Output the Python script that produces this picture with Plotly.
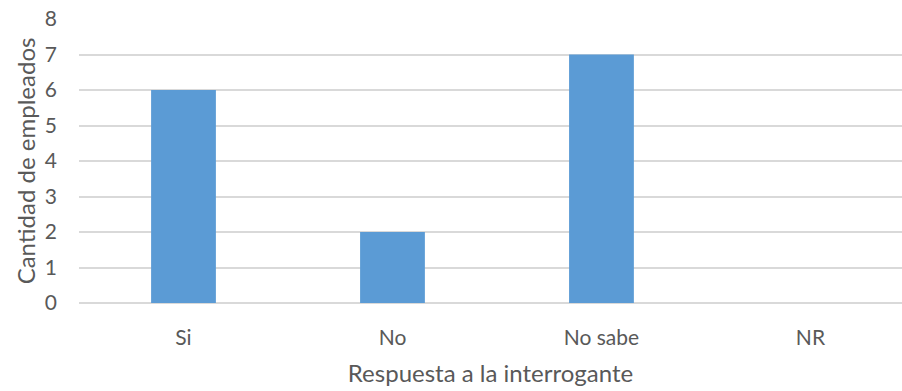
import plotly.graph_objects as go

categorias = ["Si", "No", "No sabe", "NR"]
empleados = [6, 2, 7, 0]
ticks_y = [0, 1, 2, 3, 4, 5, 6, 7, 8]

gris = "#595959"
fuente = "Lato, 'Open Sans', sans-serif"

fig = go.Figure(
    go.Bar(
        x=list(range(len(categorias))),
        y=empleados,
        marker=dict(color="#5B9BD5", line=dict(width=0)),
        width=0.31,
    )
)

fig.update_layout(
    width=902,
    height=391,
    margin=dict(l=79, r=0, t=19, b=88),
    paper_bgcolor="white",
    plot_bgcolor="white",
    showlegend=False,
    font=dict(family=fuente, color=gris, size=21),
)

fig.update_xaxes(
    tickmode="array",
    tickvals=list(range(len(categorias))),
    ticktext=categorias,
    range=[-0.5, 3.438],
    showgrid=False,
    showline=False,
    ticks="",
    ticklabelstandoff=20,
    tickfont=dict(size=21, color=gris),
    title=dict(text="Respuesta a la interrogante", font=dict(size=24, color=gris), standoff=17),
)

fig.update_yaxes(
    range=[0, 8],
    tickvals=ticks_y,
    showgrid=True,
    gridcolor="#d9d9d9",
    gridwidth=1.5,
    zeroline=True,
    zerolinecolor="#d9d9d9",
    zerolinewidth=1.5,
    showline=False,
    ticks="",
    ticklabelstandoff=21,
    tickfont=dict(size=21, color=gris),
    title=dict(text="Cantidad de empleados", font=dict(size=24, color=gris), standoff=2),
)

fig.write_html("out.html")
